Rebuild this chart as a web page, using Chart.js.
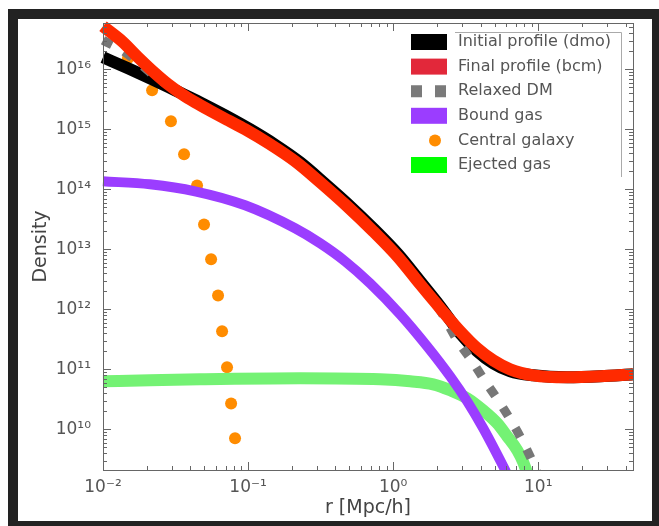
<!DOCTYPE html>
<html>
<head>
<meta charset="utf-8">
<script src="https://cdn.jsdelivr.net/npm/chart.js@4/dist/chart.umd.min.js"></script>
<style>
  html, body { margin: 0; padding: 0; background: #fff; overflow: hidden; }
  #frame {
    position: absolute; left: 8px; top: 9px; width: 654px; height: 522px;
    box-sizing: border-box; border: 10px solid #222;
  }
  #c { position: absolute; left: 0; top: 0; }
</style>
</head>
<body>
<div id="frame"></div>
<canvas id="c" width="659" height="526"></canvas>
<script>
// Radius r [Mpc/h] and density for each profile component
const rInitial   = [0.01, 0.01487, 0.02178, 0.03138, 0.04667, 0.06941, 0.1032, 0.1535, 0.2284, 0.3396, 0.4818, 0.7279, 1.083, 1.535, 2.110, 2.898, 3.796, 4.895, 6.411, 9.237, 15.85, 26.77, 45];
const rhoInitial = [1.585e16, 1.04e16, 6.81e15, 4.47e15, 2.82e15, 1.71e15, 1.0e15, 5.54e14, 2.82e14, 1.24e14, 5.84e13, 2.24e13, 8.26e12, 2.93e12, 1.12e12, 3.98e11, 2.0e11, 1.26e11, 9.27e10, 7.94e10, 7.36e10, 7.64e10, 8.25e10];

const rFinal   = [0.01, 0.01352, 0.01743, 0.02284, 0.02808, 0.03506, 0.0431, 0.05646, 0.07279, 0.09535, 0.1418, 0.2109, 0.3138, 0.4818, 0.7279, 1.083, 1.535, 2.110, 2.898, 3.796, 4.895, 6.411, 9.237, 15.85, 26.77, 45];
const rhoFinal = [5.2e16, 2.93e16, 1.585e16, 8.58e15, 5.62e15, 3.83e15, 2.82e15, 1.96e15, 1.41e15, 1.0e15, 5.62e14, 2.93e14, 1.31e14, 5.21e13, 2.0e13, 7.36e12, 2.61e12, 1.04e12, 4.3e11, 2.24e11, 1.41e11, 1.0e11, 7.94e10, 7.36e10, 7.64e10, 8.25e10];

const rRelaxed   = [0.01, 0.01352, 0.01743, 0.02284, 0.03138, 0.04667, 0.1032, 0.2284, 0.4818, 1.083, 1.535, 2.110, 2.763, 3.506, 4.175, 5.299, 6.724, 8.135, 9.237, 10.32];
const rhoRelaxed = [3.04e16, 2.07e16, 1.31e16, 7.64e15, 4.64e15, 2.51e15, 8.91e14, 2.49e14, 5.21e13, 7.36e12, 2.61e12, 9.5e11, 3.04e11, 1.36e11, 7.08e10, 3.04e10, 1.21e10, 5.21e9, 2.71e9, 1.41e9];

const rBound   = [0.01, 0.0211, 0.0431, 0.09535, 0.2109, 0.3138, 0.4667, 0.6941, 1.118, 1.716, 2.473, 3.238, 4.175, 5.736, 6.411];
const rhoBound = [1.36e14, 1.21e14, 9.26e13, 5.41e13, 2.24e13, 1.26e13, 6.31e12, 2.71e12, 8.26e11, 2.42e11, 7.64e10, 2.93e10, 1.04e10, 2.42e9, 1.41e9];

const rGalaxy   = [0.01486, 0.0218, 0.0294, 0.0362, 0.0445, 0.0497, 0.0556, 0.0621, 0.0662, 0.0716, 0.0764, 0.0813];
const rhoGalaxy = [1.53e16, 4.47e15, 1.36e15, 3.84e14, 1.16e14, 2.6e13, 6.8e12, 1.7e12, 4.3e11, 1.08e11, 2.7e10, 7.1e9];

const rEjected   = [0.01, 0.0211, 0.04667, 0.2284, 0.8132, 1.31, 1.888, 2.473, 3.238, 4.175, 5.214, 6.112, 7.166, 7.881, 8.531];
const rhoEjected = [6.31e10, 6.56e10, 6.81e10, 7.08e10, 6.81e10, 6.31e10, 5.62e10, 4.47e10, 3.29e10, 2.07e10, 1.26e10, 7.64e9, 4.47e9, 2.82e9, 1.65e9];

const seriesLabels = ['Initial profile (dmo)', 'Final profile (bcm)', 'Relaxed DM', 'Bound gas', 'Central galaxy', 'Ejected gas'];
const legendColors = ['#000000', '#e2283a', '#7a7a7a', '#9b3dff', '#ff8c00', '#00ff00'];

const xTickValues = [0.01, 0.1, 1, 10];
const xTickLabels = ['10\u207B\u00B2', '10\u207B\u00B9', '10\u2070', '10\u00B9'];
const yTickValues = [1e10, 1e11, 1e12, 1e13, 1e14, 1e15, 1e16];
const yTickLabels = ['10\u00B9\u2070', '10\u00B9\u00B9', '10\u00B9\u00B2', '10\u00B9\u00B3', '10\u00B9\u2074', '10\u00B9\u2075', '10\u00B9\u2076'];

const pts = (xs, ys) => xs.map((x, i) => ({ x: x, y: ys[i] }));
const FONT = 'DejaVu Sans';

// Frame around the plot area plus inward major/minor ticks on all four sides
const frameTicks = {
  id: 'frameTicks',
  afterDraw(chart) {
    const { ctx, chartArea: a, scales } = chart;
    ctx.save();
    ctx.strokeStyle = '#666';
    ctx.lineWidth = 1;
    ctx.strokeRect(a.left + 0.5, a.top + 0.5, a.right - a.left, a.bottom - a.top);
    const decades = (sc) => {
      const out = [];
      const lo = Math.floor(Math.log10(sc.min)), hi = Math.ceil(Math.log10(sc.max));
      for (let e = lo; e <= hi; e++) {
        for (let m = 1; m <= 9; m++) {
          const v = m * Math.pow(10, e);
          if (v >= sc.min && v <= sc.max) out.push({ v: v, major: m === 1 });
        }
      }
      return out;
    };
    ctx.beginPath();
    decades(scales.x).forEach(t => {
      const px = Math.round(scales.x.getPixelForValue(t.v)) + 0.5;
      const len = t.major ? 8 : 4;
      ctx.moveTo(px, a.bottom); ctx.lineTo(px, a.bottom - len);
      ctx.moveTo(px, a.top); ctx.lineTo(px, a.top + len);
    });
    decades(scales.y).forEach(t => {
      const py = Math.round(scales.y.getPixelForValue(t.v)) + 0.5;
      const len = t.major ? 8 : 4;
      ctx.moveTo(a.left, py); ctx.lineTo(a.left + len, py);
      ctx.moveTo(a.right, py); ctx.lineTo(a.right - len, py);
    });
    ctx.stroke();
    ctx.restore();
  }
};

// Legend box in the upper right of the plot
const cornerLegend = {
  id: 'cornerLegend',
  afterDraw(chart) {
    const { ctx } = chart;
    ctx.save();
    ctx.strokeStyle = '#aaa';
    ctx.lineWidth = 1;
    ctx.beginPath();
    ctx.moveTo(455, 32.5); ctx.lineTo(621.5, 32.5); ctx.lineTo(621.5, 177);
    ctx.stroke();
    ctx.font = '16px "' + FONT + '"';
    ctx.textBaseline = 'middle';
    ctx.textAlign = 'left';
    chart.data.datasets.forEach((ds, i) => {
      const cy = 42 + i * 24.6;
      const col = legendColors[i];
      if (ds.showLine === false) {
        ctx.fillStyle = col;
        ctx.beginPath(); ctx.arc(435, cy, 6, 0, Math.PI * 2); ctx.fill();
      } else if (ds.borderDash && ds.borderDash.length) {
        ctx.strokeStyle = col; ctx.lineWidth = 12; ctx.lineCap = 'butt';
        ctx.setLineDash([11, 13]);
        ctx.beginPath(); ctx.moveTo(411, cy); ctx.lineTo(447, cy); ctx.stroke();
        ctx.setLineDash([]);
      } else {
        ctx.fillStyle = col;
        ctx.fillRect(411, cy - 8, 36, 16);
      }
      ctx.fillStyle = '#555';
      ctx.fillText(ds.label, 458, cy);
    });
    ctx.restore();
  }
};

const lineDefaults = { pointRadius: 0, borderCapStyle: 'butt', borderJoinStyle: 'round', cubicInterpolationMode: 'monotone', clip: { left: 8, top: 8, right: 8, bottom: 0 } };

new Chart(document.getElementById('c'), {
  type: 'line',
  data: {
    datasets: [
      Object.assign({ label: seriesLabels[0], data: pts(rInitial, rhoInitial), borderColor: '#000', borderWidth: 12, order: 2 }, lineDefaults),
      Object.assign({ label: seriesLabels[1], data: pts(rFinal, rhoFinal), borderColor: '#ff2a00', borderWidth: 12, order: 0 }, lineDefaults),
      Object.assign({ label: seriesLabels[2], data: pts(rRelaxed, rhoRelaxed), borderColor: '#777', borderWidth: 9, borderDash: [10, 14], order: 1 }, lineDefaults),
      Object.assign({ label: seriesLabels[3], data: pts(rBound, rhoBound), borderColor: '#9b3dff', borderWidth: 10, order: 3 }, lineDefaults),
      { label: seriesLabels[4], data: pts(rGalaxy, rhoGalaxy), showLine: false, pointRadius: 6, pointBorderWidth: 0, pointBackgroundColor: '#ff8c00', borderColor: '#ff8c00', order: 5, clip: 8 },
      Object.assign({ label: seriesLabels[5], data: pts(rEjected, rhoEjected), borderColor: '#74f274', borderWidth: 12, order: 4 }, lineDefaults)
    ]
  },
  options: {
    responsive: false,
    animation: false,
    devicePixelRatio: 1,
    layout: { padding: { left: 0, top: 23, right: 26, bottom: 0 } },
    plugins: { legend: { display: false }, tooltip: { enabled: false } },
    scales: {
      x: {
        type: 'logarithmic', position: 'bottom', min: 0.01, max: 45,
        afterBuildTicks: (s) => { s.ticks = xTickValues.map(v => ({ value: v })); },
        afterFit: (s) => { s.height = 56; },
        grid: { display: false, drawTicks: false },
        border: { display: false },
        ticks: {
          autoSkip: false, maxRotation: 0, padding: 7, color: '#555',
          font: { family: FONT, size: 17 },
          callback: (v) => { const i = xTickValues.indexOf(v); return i >= 0 ? xTickLabels[i] : ''; }
        },
        title: { display: true, text: 'r [Mpc/h]', color: '#444', font: { family: FONT, size: 19 }, padding: { top: 0, bottom: 7 } }
      },
      y: {
        type: 'logarithmic', position: 'left', min: 2.1e9, max: 5.9e16,
        afterBuildTicks: (s) => { s.ticks = yTickValues.map(v => ({ value: v })); },
        afterFit: (s) => { s.width = 103; },
        grid: { display: false, drawTicks: false },
        border: { display: false },
        ticks: {
          autoSkip: false, padding: 12, color: '#555',
          font: { family: FONT, size: 17 },
          callback: (v) => { const i = yTickValues.indexOf(v); return i >= 0 ? yTickLabels[i] : ''; }
        },
        title: { display: true, text: 'Density', color: '#444', font: { family: FONT, size: 19 }, padding: { top: 30, bottom: 0 } }
      }
    }
  },
  plugins: [frameTicks, cornerLegend]
});
</script>
</body>
</html>
